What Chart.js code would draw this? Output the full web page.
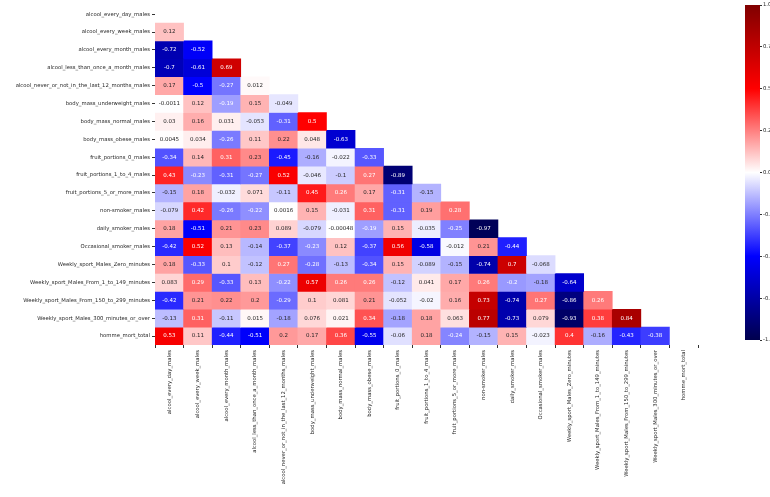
<!DOCTYPE html>
<html><head><meta charset="utf-8">
<script src="https://cdn.jsdelivr.net/npm/chart.js@4/dist/chart.umd.min.js"></script>
<style>
  body { margin: 0; background: #fff; overflow: hidden; width: 770px; height: 497px; position: relative; }
  #wrapMain { position: absolute; left: 0; top: 0; width: 700px; height: 497px; }
  #wrapBar { position: absolute; left: 745px; top: 0; width: 45px; height: 497px; }
</style>
</head><body>
<div id="wrapMain"><canvas id="heat"></canvas></div>
<div id="wrapBar"><canvas id="cbar"></canvas></div>
<script>
  // ── Data ──────────────────────────────────────────
  const variables = [
    'alcool_every_day_males', 'alcool_every_week_males', 'alcool_every_month_males',
    'alcool_less_than_once_a_month_males', 'alcool_never_or_not_in_the_last_12_months_males',
    'body_mass_underweight_males', 'body_mass_normal_males', 'body_mass_obese_males',
    'fruit_portions_0_males', 'fruit_portions_1_to_4_males', 'fruit_portions_5_or_more_males',
    'non-smoker_males', 'daily_smoker_males', 'Occasional_smoker_males',
    'Weekly_sport_Males_Zero_minutes', 'Weekly_sport_Males_From_1_to_149_minutes',
    'Weekly_sport_Males_From_150_to_299_minutes', 'Weekly_sport_Males_300_minutes_or_over',
    'homme_mort_total'
  ];
  // lower triangle, row i holds correlations with columns 0..i-1
  const corrRows = [
    [],
    [0.12],
    [-0.72, -0.52],
    [-0.7, -0.61, 0.69],
    [0.17, -0.5, -0.27, 0.012],
    [-0.0011, 0.12, -0.19, 0.15, -0.049],
    [0.03, 0.16, 0.031, -0.053, -0.31, 0.5],
    [0.0045, 0.034, -0.26, 0.11, 0.22, 0.048, -0.63],
    [-0.34, 0.14, 0.31, 0.23, -0.45, -0.16, -0.022, -0.33],
    [0.43, -0.23, -0.31, -0.27, 0.52, -0.046, -0.1, 0.27, -0.89],
    [-0.15, 0.18, -0.032, 0.071, -0.11, 0.45, 0.26, 0.17, -0.31, -0.15],
    [-0.079, 0.42, -0.26, -0.22, 0.0016, 0.15, -0.031, 0.31, -0.31, 0.19, 0.28],
    [0.18, -0.51, 0.21, 0.23, 0.089, -0.079, -0.00048, -0.19, 0.15, -0.035, -0.25, -0.97],
    [-0.42, 0.52, 0.13, -0.14, -0.37, -0.23, 0.12, -0.37, 0.56, -0.58, -0.012, 0.21, -0.44],
    [0.18, -0.33, 0.1, -0.12, 0.27, -0.28, -0.13, -0.34, 0.15, -0.089, -0.15, -0.74, 0.7, -0.068],
    [0.083, 0.29, -0.33, 0.13, -0.22, 0.57, 0.26, 0.26, -0.12, 0.041, 0.17, 0.26, -0.2, -0.18, -0.64],
    [-0.42, 0.21, 0.22, 0.2, -0.29, 0.1, 0.081, 0.21, -0.052, -0.02, 0.16, 0.73, -0.74, 0.27, -0.86, 0.26],
    [-0.13, 0.31, -0.11, 0.015, -0.18, 0.076, 0.021, 0.34, -0.18, 0.18, 0.063, 0.77, -0.73, 0.079, -0.93, 0.38, 0.84],
    [0.53, 0.11, -0.44, -0.51, 0.2, 0.17, 0.36, -0.55, -0.06, 0.18, -0.24, -0.15, 0.15, -0.023, 0.4, -0.16, -0.43, -0.38]
  ];
  const barTicks = [-1, -0.75, -0.5, -0.25, 0, 0.25, 0.5, 0.75, 1];

  // ── Colormap (seismic) ──────────────────────────────────────────
  const stops = [[0, [0, 0, 77]], [0.25, [0, 0, 255]], [0.5, [255, 255, 255]], [0.75, [255, 0, 0]], [1, [128, 0, 0]]];
  function cmap(v) {
    const t = Math.max(0, Math.min(1, (v + 1) / 2));
    for (let i = 1; i < stops.length; i++) {
      if (t <= stops[i][0]) {
        const [t0, c0] = stops[i - 1], [t1, c1] = stops[i];
        const k = (t - t0) / (t1 - t0);
        return c0.map((c, j) => Math.round(c + (c1[j] - c) * k));
      }
    }
    return stops[stops.length - 1][1];
  }
  const rgb = c => `rgb(${c[0]},${c[1]},${c[2]})`;
  const lum = c => {
    const f = x => { x /= 255; return x <= 0.03928 ? x / 12.92 : Math.pow((x + 0.055) / 1.055, 2.4); };
    return 0.2126 * f(c[0]) + 0.7152 * f(c[1]) + 0.0722 * f(c[2]);
  };
  const fmt = v => String(Number(v.toPrecision(2)));

  const N = variables.length;
  const FONT = 'DejaVu Sans';

  const datasets = corrRows.map((row, r) => ({
    data: variables.map((_, c) => c < row.length ? [r, r + 1] : null),
    backgroundColor: variables.map((_, c) => c < row.length ? rgb(cmap(row[c])) : 'rgba(0,0,0,0)'),
    borderWidth: 0, barPercentage: 1, categoryPercentage: 1, grouped: false
  }));

  const cellText = {
    id: 'cellText',
    afterDatasetsDraw(chart) {
      const { ctx, scales: { x, y } } = chart;
      ctx.save();
      ctx.font = `5.5px "${FONT}"`;
      ctx.textAlign = 'center'; ctx.textBaseline = 'middle';
      corrRows.forEach((row, r) => row.forEach((v, c) => {
        ctx.fillStyle = lum(cmap(v)) > 0.408 ? '#262626' : '#ffffff';
        ctx.fillText(fmt(v), x.getPixelForValue(c), y.getPixelForValue(r + 0.5));
      }));
      ctx.restore();
    }
  };

  new Chart(document.getElementById('heat'), {
    type: 'bar',
    data: { labels: variables, datasets },
    plugins: [cellText],
    options: {
      responsive: true, maintainAspectRatio: false, animation: false,
      layout: { padding: { top: 5, right: 2 } },
      plugins: { legend: { display: false }, tooltip: { enabled: false } },
      scales: {
        x: {
          ticks: { autoSkip: false, maxRotation: 90, minRotation: 90, color: '#262626', font: { family: FONT, size: 5.3 }, padding: 2 },
          grid: { drawOnChartArea: false, tickLength: 3, color: '#333' }, border: { display: false },
          afterFit: s => { s.height = 152; }
        },
        y: {
          type: 'linear', min: 0, max: N, reverse: true,
          afterBuildTicks: s => { s.ticks = variables.map((_, i) => ({ value: i + 0.5 })); },
          ticks: { autoSkip: false, color: '#262626', font: { family: FONT, size: 5.3 }, padding: 2,
                   callback: (v) => variables[Math.floor(v)] },
          grid: { drawOnChartArea: false, tickLength: 3, color: '#333' }, border: { display: false },
          afterFit: s => { s.width = 155; }
        }
      }
    }
  });

  // ── Colorbar ──────────────────────────────────────────
  new Chart(document.getElementById('cbar'), {
    type: 'bar',
    data: { labels: [''], datasets: [{
      data: [[-1, 1]], borderWidth: 0, barPercentage: 1, categoryPercentage: 1,
      backgroundColor: (ctx) => {
        const { chartArea, ctx: c } = ctx.chart;
        if (!chartArea) return '#fff';
        const g = c.createLinearGradient(0, chartArea.bottom, 0, chartArea.top);
        for (let i = 0; i <= 20; i++) g.addColorStop(i / 20, rgb(cmap(-1 + i / 10)));
        return g;
      }
    }] },
    options: {
      responsive: true, maintainAspectRatio: false, animation: false,
      layout: { padding: { top: 5, bottom: 157, left: 0, right: 0 } },
      plugins: { legend: { display: false }, tooltip: { enabled: false } },
      scales: {
        x: { display: false },
        y: {
          position: 'right', min: -1, max: 1,
          afterBuildTicks: s => { s.ticks = barTicks.map(v => ({ value: v })); },
          ticks: { color: '#262626', font: { family: FONT, size: 5.3 }, padding: 1, callback: v => v.toFixed(2) },
          grid: { drawOnChartArea: false, tickLength: 2, color: '#333' }, border: { display: false },
          afterFit: s => { s.width = 30; }
        }
      }
    }
  });
</script>
</body></html>
